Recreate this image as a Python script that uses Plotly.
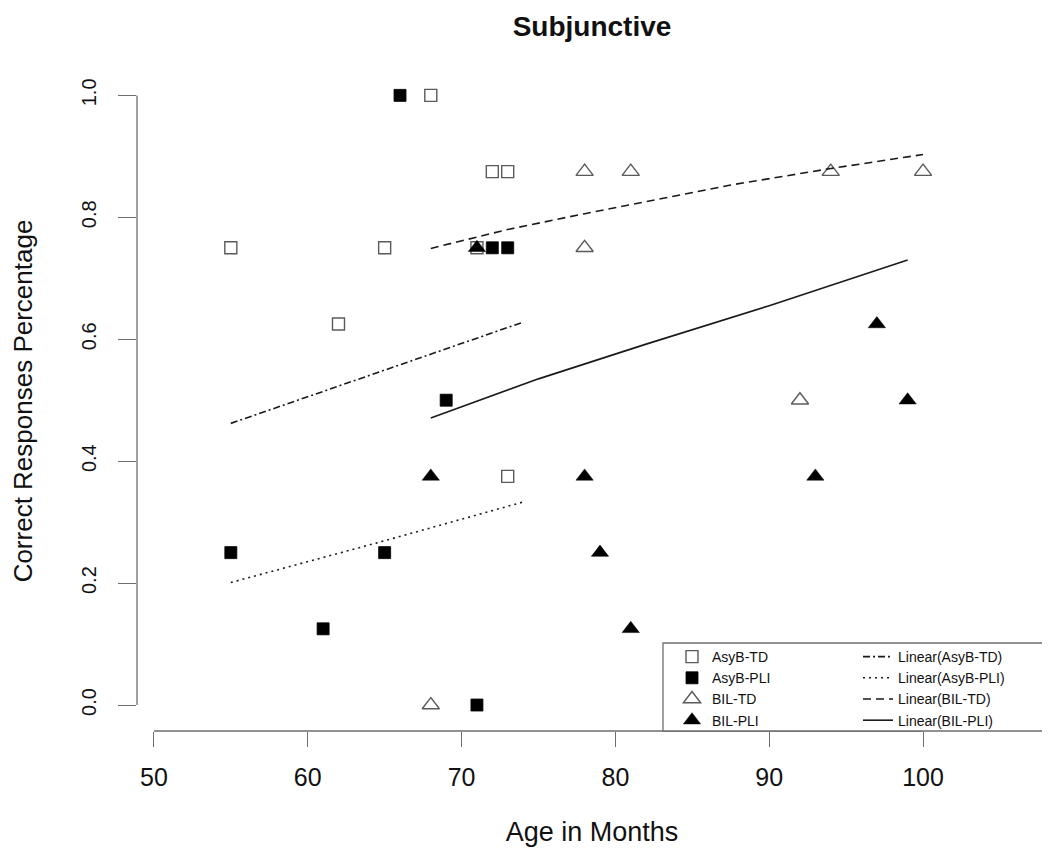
import plotly.graph_objects as go

# ---- data ----
asyb_td_age = [55, 62, 65, 68, 71, 72, 73, 73]
asyb_td_val = [0.75, 0.625, 0.75, 1.0, 0.75, 0.875, 0.875, 0.375]

asyb_pli_age = [55, 61, 65, 66, 69, 71, 72, 73]
asyb_pli_val = [0.25, 0.125, 0.25, 1.0, 0.5, 0.0, 0.75, 0.75]

bil_td_age = [68, 78, 78, 81, 92, 94, 100]
bil_td_val = [0.0, 0.875, 0.75, 0.875, 0.5, 0.875, 0.875]

bil_pli_age = [68, 71, 78, 79, 81, 93, 97, 99]
bil_pli_val = [0.375, 0.75, 0.375, 0.25, 0.125, 0.375, 0.625, 0.5]

# trend lines
fit_asyb_td_age = [55, 64.5, 74]
fit_asyb_td_val = [0.462, 0.545, 0.628]
fit_asyb_pli_age = [55, 64.5, 74]
fit_asyb_pli_val = [0.201, 0.266, 0.333]
fit_bil_td_age = [68, 73, 78, 87.5, 94, 100]
fit_bil_td_val = [0.749, 0.780, 0.806, 0.853, 0.880, 0.903]
fit_bil_pli_age = [68, 75, 82, 90, 99]
fit_bil_pli_val = [0.471, 0.535, 0.592, 0.655, 0.730]

x_ticks = [50, 60, 70, 80, 90, 100]
y_ticks = [0.0, 0.2, 0.4, 0.6, 0.8, 1.0]

FONT = "Liberation Sans, Arial, sans-serif"
GRAY = "#6e6e6e"
OPEN = "#5a5a5a"

PH = 660.0  # plot area height in px

fig = go.Figure()

# point series
fig.add_trace(go.Scatter(x=asyb_td_age, y=asyb_td_val, mode="markers", name="AsyB-TD",
                         marker=dict(symbol="square-open", size=12, color=OPEN, line=dict(width=1.4, color=OPEN))))
fig.add_trace(go.Scatter(x=asyb_pli_age, y=asyb_pli_val, mode="markers", name="AsyB-PLI",
                         marker=dict(symbol="square", size=12, color="black", line=dict(width=0.8, color="black"))))
fig.add_trace(go.Scatter(x=bil_td_age, y=bil_td_val, mode="markers", name="BIL-TD",
                         marker=dict(symbol="triangle-up-open", size=15, color=OPEN, line=dict(width=1.4, color=OPEN))))
fig.add_trace(go.Scatter(x=bil_pli_age, y=bil_pli_val, mode="markers", name="BIL-PLI",
                         marker=dict(symbol="triangle-up", size=15, color="black", line=dict(width=0.5, color="black"))))

# trend lines
LC = "#1a1a1a"
fig.add_trace(go.Scatter(x=fit_asyb_td_age, y=fit_asyb_td_val, mode="lines", name="Linear(AsyB-TD)",
                         legend="legend2", line=dict(color=LC, width=1.6, dash="7px,3px,2px,3px")))
fig.add_trace(go.Scatter(x=fit_asyb_pli_age, y=fit_asyb_pli_val, mode="lines", name="Linear(AsyB-PLI)",
                         legend="legend2", line=dict(color=LC, width=1.6, dash="2px,4px")))
fig.add_trace(go.Scatter(x=fit_bil_td_age, y=fit_bil_td_val, mode="lines", name="Linear(BIL-TD)",
                         legend="legend2", line=dict(color=LC, width=1.6, dash="8px,5px")))
fig.add_trace(go.Scatter(x=fit_bil_pli_age, y=fit_bil_pli_val, mode="lines", name="Linear(BIL-PLI)",
                         legend="legend2", line=dict(color=LC, width=1.6)))

# page has an 8px body margin, so figure coords = screen coords - 8
LEG_TOP = (731 - 641) / PH
fig.update_layout(
    width=1050, height=848,
    margin=dict(l=129, r=11, t=63, b=125, autoexpand=False),
    paper_bgcolor="white", plot_bgcolor="white",
    font=dict(family=FONT, color="#111111"),
    title=dict(text="Subjunctive", x=0.5, xref="paper", xanchor="center",
               y=1 - 8 / 848, yref="container", yanchor="top", pad=dict(t=0, b=0),
               font=dict(size=28, family=FONT, weight="bold", color="#111111")),
    xaxis=dict(range=[48.9, 108.06], tickvals=x_ticks, ticks="outside", ticklen=15,
               tickwidth=1.3, tickcolor=GRAY, showgrid=False, zeroline=False, showline=False,
               tickfont=dict(size=25, family=FONT), ticklabelstandoff=9, automargin=False,
               title=dict(text="Age in Months", font=dict(size=27, family=FONT), standoff=32)),
    yaxis=dict(range=[-0.0426, 1.04], tickvals=y_ticks, tickformat=".1f", ticks="outside",
               ticklen=18, tickwidth=1.3, tickcolor=GRAY, showgrid=False, zeroline=False,
               showline=False, tickangle=-90, tickfont=dict(size=20, family=FONT),
               ticklabelstandoff=14, automargin=False,
               title=dict(text="Correct Responses Percentage", font=dict(size=26, family=FONT),
                          standoff=44)),
    legend=dict(x=(672 - 137) / 910, y=LEG_TOP, xanchor="left", yanchor="top",
                bgcolor="rgba(0,0,0,0)", borderwidth=0, font=dict(size=14, family=FONT),
                tracegroupgap=0),
    legend2=dict(x=(858 - 137) / 910, y=LEG_TOP, xanchor="left", yanchor="top",
                 bgcolor="rgba(0,0,0,0)", borderwidth=0, font=dict(size=14, family=FONT),
                 tracegroupgap=0),
    shapes=[
        # R-style detached axis lines spanning only the tick range
        dict(type="line", xref="paper", yref="y", x0=0, x1=0, y0=y_ticks[0], y1=y_ticks[-1],
             line=dict(color=GRAY, width=1.3)),
        dict(type="line", xref="x", yref="paper", x0=x_ticks[0], x1=x_ticks[-1], y0=0, y1=0,
             line=dict(color=GRAY, width=1.3)),
        # legend box
        dict(type="rect", xref="paper", yref="paper", x0=(663 - 137) / 910, x1=1.0,
             y0=0, y1=(731 - 643) / PH, line=dict(color=GRAY, width=1.3),
             fillcolor="white", layer="above"),
    ],
)

fig.write_html("out.html")
